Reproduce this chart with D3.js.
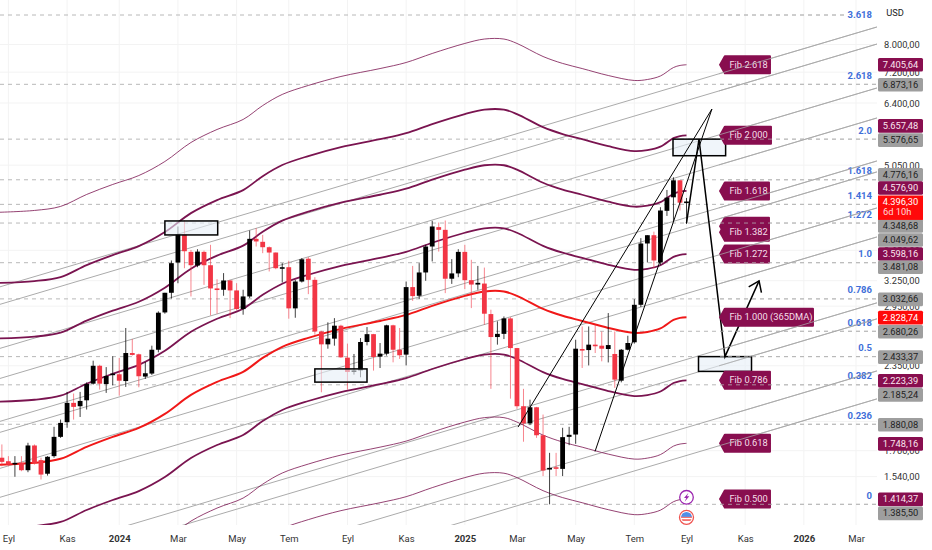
<!DOCTYPE html>
<html>
<head>
<meta charset="utf-8">
<script src="https://cdn.jsdelivr.net/npm/d3@7"></script>
<style>
html,body{margin:0;padding:0;background:#fff;}
svg{display:block;font-family:Roboto,"Open Sans",sans-serif;}
</style>
</head>
<body>
<svg id="c" width="932" height="550"></svg>
<script>
// ---------- DATA ----------
const lastWeekIso = "2025-09-01";
// weekly candles, oldest to newest
const opens = [1655,1633,1615,1623,1578,1734,1640,1557,1665,1792,
1895,2040,2014,2060,2195,2350,2192,2269,2275,2217,
2467,2455,2255,2281,2498,2880,3104,3484,3876,3628,
3444,3628,3448,3156,3140,3253,3132,2917,3061,3813,
3770,3693,3619,3413,3422,2925,3240,3535,
3261,2678,2550,2606,2738,2424,2298,2309,2573,2651,
2433,2461,2742,2498,2452,3172,3069,3354,3703,3987,
3946,3275,3342,3628,3257,3203,3215,2862,2622,2654,
2815,2514,2014,1886,2006,1803,1582,1596,1586,1792,
1808,2505,2495,2547,2537,2505,2458,2220,2498,2570,
2965,3746,3866,3484,4243,4467,4766,4377];
const highs = [1741,1665,1665,1665,1752,1741,1655,1665,1862,1914,
2127,2114,2127,2206,2396,2359,2338,2436,2421,2714,
2602,2461,2384,2537,2892,3104,3511,3997,4089,3655,
3665,3646,3727,3269,3346,3261,3220,3140,3936,3971,
3871,3703,3619,3475,3507,3261,3543,3556,
3294,2685,2773,2818,2748,2557,2458,2612,2724,2654,
2563,2748,2748,2714,3240,3439,3475,3727,4084,4058,
4089,3529,3665,3727,3520,3439,3417,2910,2784,2836,
2829,2514,2152,2065,2009,1951,1686,1686,1855,1862,
2595,2730,2730,2748,2678,2873,2678,2505,2635,3029,
3823,3866,3919,4302,4594,4821,4772,4456];
const lows = [1602,1602,1539,1572,1566,1612,1523,1546,1655,1785,
1855,1914,1933,1989,2187,2146,2119,2181,2097,2168,
2443,2165,2235,2269,2473,2866,3037,3219,3409,3061,
3422,3199,2847,2866,3069,2818,2903,2855,3041,3703,
3610,3367,3396,3228,2812,2822,3228,3088,
2645,2124,2508,2537,2421,2146,2272,2249,2540,2307,
2330,2443,2381,2412,2353,3010,3033,3249,3498,3632,
3100,3211,3294,3148,2928,3140,2748,2152,2547,2602,
2073,1994,1759,1874,1785,1543,1385.5,1543,1543,1736,
1745,2330,2353,2467,2390,2380,2160,2206,2492,2557,
2940,3484,3409,3452,4161,4078,4248,4035];
const closes = [1629,1612,1623,1578,1734,1623,1552,1661,1792,1890,
2040,2009,2055,2192,2350,2195,2260,2281,2220,2467,
2449,2258,2284,2498,2877,3104,3475,3876,3637,3448,
3632,3448,3156,3148,3253,3132,2917,3061,3813,3775,
3693,3619,3409,3422,2925,3240,3527,3261,
2678,2550,2606,2738,2427,2295,2309,2573,2651,2430,
2461,2742,2498,2446,3172,3065,3354,3703,3997,3946,
3275,3342,3628,3257,3203,3224,2866,2622,2654,2815,
2514,2014,1886,2006,1803,1576,1592,1588,1790,1806,
2508,2492,2547,2537,2508,2543,2229,2498,2563,2965,
3746,3866,3511,4248,4461,4766,4377,4396.30];

// 365-day moving average, read at selected weeks (weeks before the last candle)
const dmaWeeksBack = [106,100,96,92,88,84,80,76,72,68,65,62,58,53,47,43,39,34,31,28,26,22,19,16,12,8,6,4,2,1,0];
const dmaValues = [1611,1623,1648,1725,1792,1854,1956,2103,2210,2296,2421,2526,2614,2705,2788,2853,2953,3068,3120,3120,3068,2919,2843,2788,2715,2664,2674,2710,2799,2821,2828.74];

// Fib multiples of the moving average
const bandMultiples = [2.618,2.0,1.618,1.272,1.0,0.786,0.618,0.5];
const bandKinds = ["thin","thick","thick","thick","red","thick","thin","thin"];
const bandTagMultiples = [2.618,2.0,1.618,1.414,1.382,1.272,1.0,0.786,0.618,0.5];
const bandTagLabels = ["Fib 2.618","Fib 2.000","Fib 1.618","","Fib 1.382","Fib 1.272","Fib 1.000 (365DMA)","Fib 0.786","Fib 0.618","Fib 0.500"];

// Fib retracement levels
const fibLabels = ["3.618","2.618","2.0","1.618","1.414","1.272","1.0","0.786","0.618","0.5","0.382","0.236","0"];
const fibPrices = [8952,6873.16,5576.65,4776.16,4348.68,4049.62,3481.08,3032.66,2680.26,2433.37,2185.24,1880.08,1385.50];

// parallel channel lines: price at the left end and at the right end
const channelStartPrices = [3175,2970,2511,2239,1901,1823,1589,1423,1106,1040,853,767];
const channelEndPrices = [8552,8013,6777,6045,5131,4921,4289,3840,2987,2810,2304,2071];
const channelWeeks = [105.3,-29.2];

// hand-drawn lines (weeks back, price)
const thinA = {weeks:[25.84,-3.9],prices:[1860,6255]};
const thinB = {weeks:[14.03,-3.9],prices:[1695,6255]};
const pathWeeks = [0,-1.92,-5.9,-11.13];
const pathPrices = [4049.62,5576.65,2433.37,3248];

// rectangles: weeks back (left, right), price (top, bottom)
const boxWeeksLeft = [80,57,2.07,-1.84];
const boxWeeksRight = [71.9,49,-6.0,-9.97];
const boxPriceTop = [4082,2322,5576.65,2433.37];
const boxPriceBottom = [3870,2208,5235,2300];

// axes
const priceTicks = [8000,7200,6400,5050,3650,3250,2950,2350,1900,1700,1540];
const timeTickDates = ["2023-09-04","2023-11-06","2024-01-01","2024-03-04","2024-05-06","2024-07-01","2024-09-02","2024-11-04","2025-01-06","2025-03-03","2025-05-05","2025-07-07","2025-09-01","2025-11-03","2026-01-05","2026-03-02"];
const timeTickLabels = ["Eyl","Kas","2024","Mar","May","Tem","Eyl","Kas","2025","Mar","May","Tem","Eyl","Kas","2026","Mar"];

// price tags on the right axis
const tagValues = [7405.64,6873.16,5657.48,5576.65,4776.16,4576.90,4348.68,4049.62,3598.16,3481.08,3032.66,2828.74,2680.26,2433.37,2223.39,2185.24,1880.08,1748.16,1414.37,1385.50];
const tagKinds = ["m","g","m","g","g","m","g","g","m","g","g","r","g","g","m","g","g","m","m","g"];
const tagNudge = [0,0.5,-9.5,1,-5,-3,21.5,17,0,4.5,0.5,0.5,0.5,0.5,0.5,10,0.5,0.5,0.5,9];
const currentPrice = 4396.30;
const currentCountdown = "6d 10h";

// ---------- SCALES ----------
const W=932,H=550,plotR=877,plotB=525,axisX=878,tagW=45,tagH=13.6;
const svg=d3.select("#c");
const lastWeek=new Date(lastWeekIso+"T00:00:00Z");
const weeksAgo=n=>new Date(+lastWeek-n*7*864e5);
const x=d3.scaleUtc().domain([new Date("2023-09-04T00:00:00Z"),lastWeek]).range([8.4,686.5]);
const y=d3.scaleLog().domain([8000,1540]).range([44.5,476.6]);
const loc=d3.formatLocale({decimal:",",thousands:".",grouping:[3],currency:["",""]});
const fmt=loc.format(",.2f");
const MAROON="#880e4f", LINE="#7a1450", RED="#f23645";
const FS=9.3;
const tipX=x(weeksAgo(-4.98));

const defs=svg.append("defs");
defs.append("clipPath").attr("id","plot").append("rect").attr("x",0).attr("y",0).attr("width",plotR).attr("height",plotB);
defs.append("clipPath").attr("id","over").append("rect").attr("x",tipX).attr("y",0).attr("width",plotR-tipX).attr("height",plotB);

svg.append("rect").attr("width",W).attr("height",H).attr("fill","#fff");

// grid
const tickDates=timeTickDates.map(d=>new Date(d+"T00:00:00Z"));
const grid=svg.append("g");
grid.selectAll("line.v").data(tickDates).join("line").attr("x1",d=>x(d)).attr("x2",d=>x(d)).attr("y1",0).attr("y2",plotB).attr("stroke","#f3f3f3");
grid.selectAll("line.h").data(priceTicks).join("line").attr("x1",0).attr("x2",plotR).attr("y1",d=>y(d)).attr("y2",d=>y(d)).attr("stroke","#f3f3f3");

const plot=svg.append("g").attr("clip-path","url(#plot)");

function fibLines(sel){
 sel.selectAll("line.fib").data(fibPrices).join("line").attr("class","fib")
 .attr("x1",0).attr("x2",(d,i)=>i===0?847:plotR).attr("y1",d=>y(d)).attr("y2",d=>y(d))
 .attr("stroke","#b8b8b8").attr("stroke-dasharray","4 4");
}
function channelLines(sel){
 sel.selectAll("line.ch").data(channelEndPrices).join("line").attr("class","ch")
 .attr("x1",x(weeksAgo(channelWeeks[0]))).attr("x2",x(weeksAgo(channelWeeks[1])))
 .attr("y1",(d,i)=>y(channelStartPrices[i])).attr("y2",d=>y(d))
 .attr("stroke","#ababab").attr("stroke-width",1);
}
fibLines(plot);
channelLines(plot);

// bands
const bandLine=m=>d3.line().x((w)=>x(weeksAgo(w))).y((w,i)=>y(dmaValues[i]*m)).curve(d3.curveCatmullRom)(dmaWeeksBack);
plot.selectAll("path.band").data(bandMultiples).join("path").attr("class","band")
 .attr("d",bandLine).attr("fill","none")
 .attr("stroke",(d,i)=>bandKinds[i]==="red"?"#f01818":LINE)
 .attr("stroke-opacity",(d,i)=>bandKinds[i]==="thin"?0.8:1)
 .attr("stroke-width",(d,i)=>bandKinds[i]==="thin"?1:(bandKinds[i]==="red"?2:1.8));

// candles
const n=opens.length;
const idx=d3.range(n);
const cx=i=>x(weeksAgo(n-1-i));
const candleCol=i=>closes[i]>=opens[i]?"#000":RED;
const cg=plot.append("g");
cg.selectAll("line").data(idx).join("line").attr("x1",cx).attr("x2",cx)
 .attr("y1",i=>y(highs[i])).attr("y2",i=>y(lows[i]))
 .attr("stroke",candleCol).attr("stroke-opacity",i=>closes[i]>=opens[i]?0.75:0.6).attr("stroke-width",1);
cg.selectAll("rect").data(idx).join("rect")
 .attr("x",i=>cx(i)-2.4).attr("width",4.8)
 .attr("y",i=>y(Math.max(opens[i],closes[i])))
 .attr("height",i=>Math.max(1.6,y(Math.min(opens[i],closes[i]))-y(Math.max(opens[i],closes[i]))))
 .attr("fill",candleCol);

// rectangles
plot.selectAll("rect.box").data(boxWeeksLeft).join("rect").attr("class","box")
 .attr("x",d=>x(weeksAgo(d)))
 .attr("width",(d,i)=>x(weeksAgo(boxWeeksRight[i]))-x(weeksAgo(d)))
 .attr("y",(d,i)=>y(boxPriceTop[i]))
 .attr("height",(d,i)=>y(boxPriceBottom[i])-y(boxPriceTop[i]))
 .attr("fill","#e6eef6").attr("fill-opacity",0.6).attr("stroke","#000").attr("stroke-width",1.5);

// hand-drawn lines
const drawn=plot.append("g").attr("fill","none").attr("stroke","#000");
[thinA,thinB].forEach(t=>{
  drawn.append("path").attr("stroke-width",1)
   .attr("d",d3.line().x(w=>x(weeksAgo(w))).y((w,i)=>y(t.prices[i]))(t.weeks));
});
drawn.append("path").attr("stroke-width",1.5).attr("stroke-linejoin","miter")
 .attr("d",d3.line().x(w=>x(weeksAgo(w))).y((w,i)=>y(pathPrices[i]))(pathWeeks));
// arrow head follows the last segment
(function(){
  const L=pathWeeks.length-1;
  const x1=x(weeksAgo(pathWeeks[L-1])),y1=y(pathPrices[L-1]),x2=x(weeksAgo(pathWeeks[L])),y2=y(pathPrices[L]);
  const a=Math.atan2(y2-y1,x2-x1),s=12,sp=0.62;
  const pt=t=>[x2-s*Math.cos(a+t),y2-s*Math.sin(a+t)];
  drawn.append("path").attr("stroke-width",1.5).attr("d",d3.line()([pt(sp),[x2,y2],pt(-sp)]));
})();

// fib level labels
svg.selectAll("text.fibl").data(fibLabels).join("text").attr("class","fibl")
 .attr("x",872).attr("y",(d,i)=>i===0?y(fibPrices[i])+0.5:y(fibPrices[i])-8)
 .attr("dominant-baseline","middle").attr("text-anchor","end")
 .attr("font-size",9.5).attr("font-weight",700).attr("fill","#3f6fd9").text(d=>d);

// maroon labels next to the bands
const endDma=dmaValues[dmaValues.length-1];
const tagG=svg.append("g");
const labelWidths=[47,48,46,46,46,46,90,47,47,47];
bandTagMultiples.forEach((m,i)=>{
  const cy=y(endDma*m), w=labelWidths[i], h=19;
  const g=tagG.append("g");
  g.append("path").attr("d",`M${tipX},${cy} L${tipX+5},${cy-h/2+0.5} Q${tipX+5},${cy-h/2} ${tipX+6},${cy-h/2} L${tipX+5+w-1},${cy-h/2} Q${tipX+5+w},${cy-h/2} ${tipX+5+w},${cy-h/2+1} L${tipX+5+w},${cy+h/2-1} Q${tipX+5+w},${cy+h/2} ${tipX+5+w-1},${cy+h/2} L${tipX+6},${cy+h/2} Q${tipX+5},${cy+h/2} ${tipX+5},${cy+h/2-0.5} Z`).attr("fill",MAROON);
  g.append("text").attr("x",tipX+10.5).attr("y",cy+0.5).attr("dominant-baseline","middle")
   .attr("font-size",FS).attr("fill","#f6dfe9").text(bandTagLabels[i]);
});
// the level and channel lines run over the maroon labels
const over=svg.append("g").attr("clip-path","url(#over)").attr("opacity",0.75);
fibLines(over);
channelLines(over);

// event icons
const ex=x(lastWeek);
const ev=svg.append("g");
ev.append("circle").attr("cx",ex).attr("cy",497.3).attr("r",6.8).attr("fill","#fff").attr("stroke","#9c27b0").attr("stroke-width",1.3);
ev.append("path").attr("d",`M${ex+2},${497.3-4.5} L${ex-2.5},${497.3+0.8} L${ex-0.2},${497.3+0.8} L${ex-1.8},${497.3+4.5} L${ex+2.8},${497.3-1} L${ex+0.4},${497.3-1} Z`).attr("fill","#9c27b0");
const fy=517.3;
defs.append("clipPath").attr("id","flag").append("circle").attr("cx",ex).attr("cy",fy).attr("r",5.4);
ev.append("circle").attr("cx",ex).attr("cy",fy).attr("r",7).attr("fill","#fff").attr("stroke","#ef5350").attr("stroke-width",1.3);
const fg=ev.append("g").attr("clip-path","url(#flag)");
fg.append("rect").attr("x",ex-6).attr("y",fy-6).attr("width",12).attr("height",12).attr("fill","#fff");
[-4,-1,2].forEach(o=>fg.append("rect").attr("x",ex-6).attr("y",fy+o).attr("width",12).attr("height",1.5).attr("fill","#ef5350"));
fg.append("rect").attr("x",ex-6).attr("y",fy-6).attr("width",12).attr("height",5.5).attr("fill","#4f8fe8");

// axes
const yAxis=d3.axisRight(y).tickValues(priceTicks).tickSize(0).tickPadding(0).tickFormat(d=>fmt(d));
const ya=svg.append("g").attr("transform",`translate(884,0)`).call(yAxis);
ya.select(".domain").remove();
ya.selectAll("text").attr("font-size",FS).attr("font-family","Roboto,sans-serif").attr("fill","#333");

const xAxis=d3.axisBottom(x).tickValues(tickDates).tickSize(0).tickPadding(0).tickFormat((d,i)=>timeTickLabels[i]);
const xa=svg.append("g").attr("transform",`translate(0,535)`).call(xAxis);
xa.select(".domain").remove();
xa.selectAll("text").attr("font-size",FS+0.2).attr("font-family","Roboto,sans-serif").attr("fill","#333")
 .attr("font-weight",(d,i)=>/^\d+$/.test(timeTickLabels[i])?700:400);

svg.append("text").attr("x",895).attr("y",14).attr("text-anchor","middle").attr("dominant-baseline","middle").attr("font-size",FS).attr("fill","#222").text("USD");

// price tags
const tagFill={m:MAROON,g:"#9e9e9e",r:"#ff0a0a"}, tagText={m:"#fbe6ef",g:"#222",r:"#fff"};
const tags=svg.append("g");
tagValues.forEach((v,i)=>{
  const cy=y(v)+tagNudge[i];
  tags.append("rect").attr("x",axisX).attr("y",cy-tagH/2).attr("width",tagW).attr("height",tagH).attr("rx",1.5).attr("fill",tagFill[tagKinds[i]]);
  tags.append("text").attr("x",axisX+tagW/2).attr("y",cy+0.5).attr("text-anchor","middle").attr("dominant-baseline","middle")
   .attr("font-size",FS).attr("fill",tagText[tagKinds[i]]).text(fmt(v));
});
const cpTop=y(currentPrice)-6;
tags.append("rect").attr("x",axisX).attr("y",cpTop).attr("width",tagW).attr("height",24.4).attr("fill","#ff0a0a");
tags.append("text").attr("x",axisX+tagW/2).attr("y",cpTop+7.5).attr("text-anchor","middle").attr("dominant-baseline","middle").attr("font-size",FS).attr("fill","#fff").text(fmt(currentPrice));
tags.append("text").attr("x",axisX+5).attr("y",cpTop+17.5).attr("dominant-baseline","middle").attr("font-size",FS).attr("fill","#ffd9d9").text(currentCountdown);
</script>
</body>
</html>
